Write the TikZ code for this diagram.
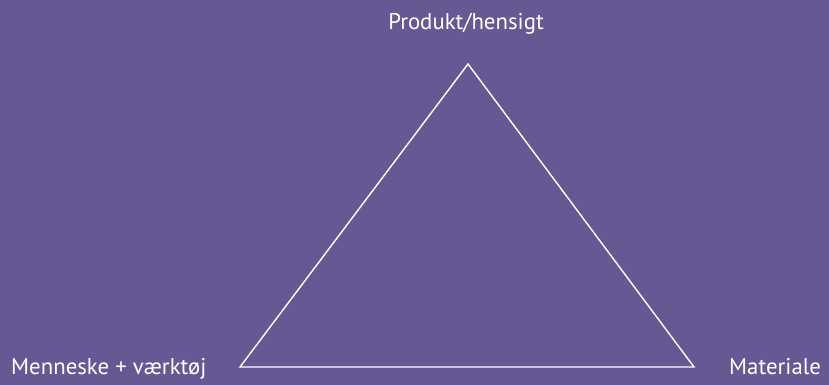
\documentclass[tikz,border=0pt]{standalone}
\usepackage{fontspec}
\setmainfont{PT Sans}
\usepackage{xcolor}
\definecolor{triback}{HTML}{675893}
\definecolor{triink}{HTML}{FFFFFF}

\begin{document}
\begin{tikzpicture}[
  x=1pt,y=1pt,
  font=\fontsize{22.8}{26}\selectfont,
  text=triink,
  line join=miter,
  corner/.style={
    inner sep=0pt
  },
  side/.style={
    draw=triink,
    line width=1.4pt
  }
]

% background and fixed size
\fill[triback] (0,0) rectangle (829,385);
\useasboundingbox (0,0) rectangle (829,385);

% triangle corners
\coordinate (top) at (468,321);
\coordinate (left) at (240,18);
\coordinate (right) at (694,18);

\draw[side] (top) -- (left) -- (right) -- cycle;

% labels
\node[corner,anchor=base] (produkt) at (466,355) {Produkt/hensigt};
\node[corner,anchor=base west] (menneske) at (11,10) {Menneske + værktøj};
\node[corner,anchor=base west] (materiale) at (729,10) {Materiale};
\end{tikzpicture}
\end{document}
